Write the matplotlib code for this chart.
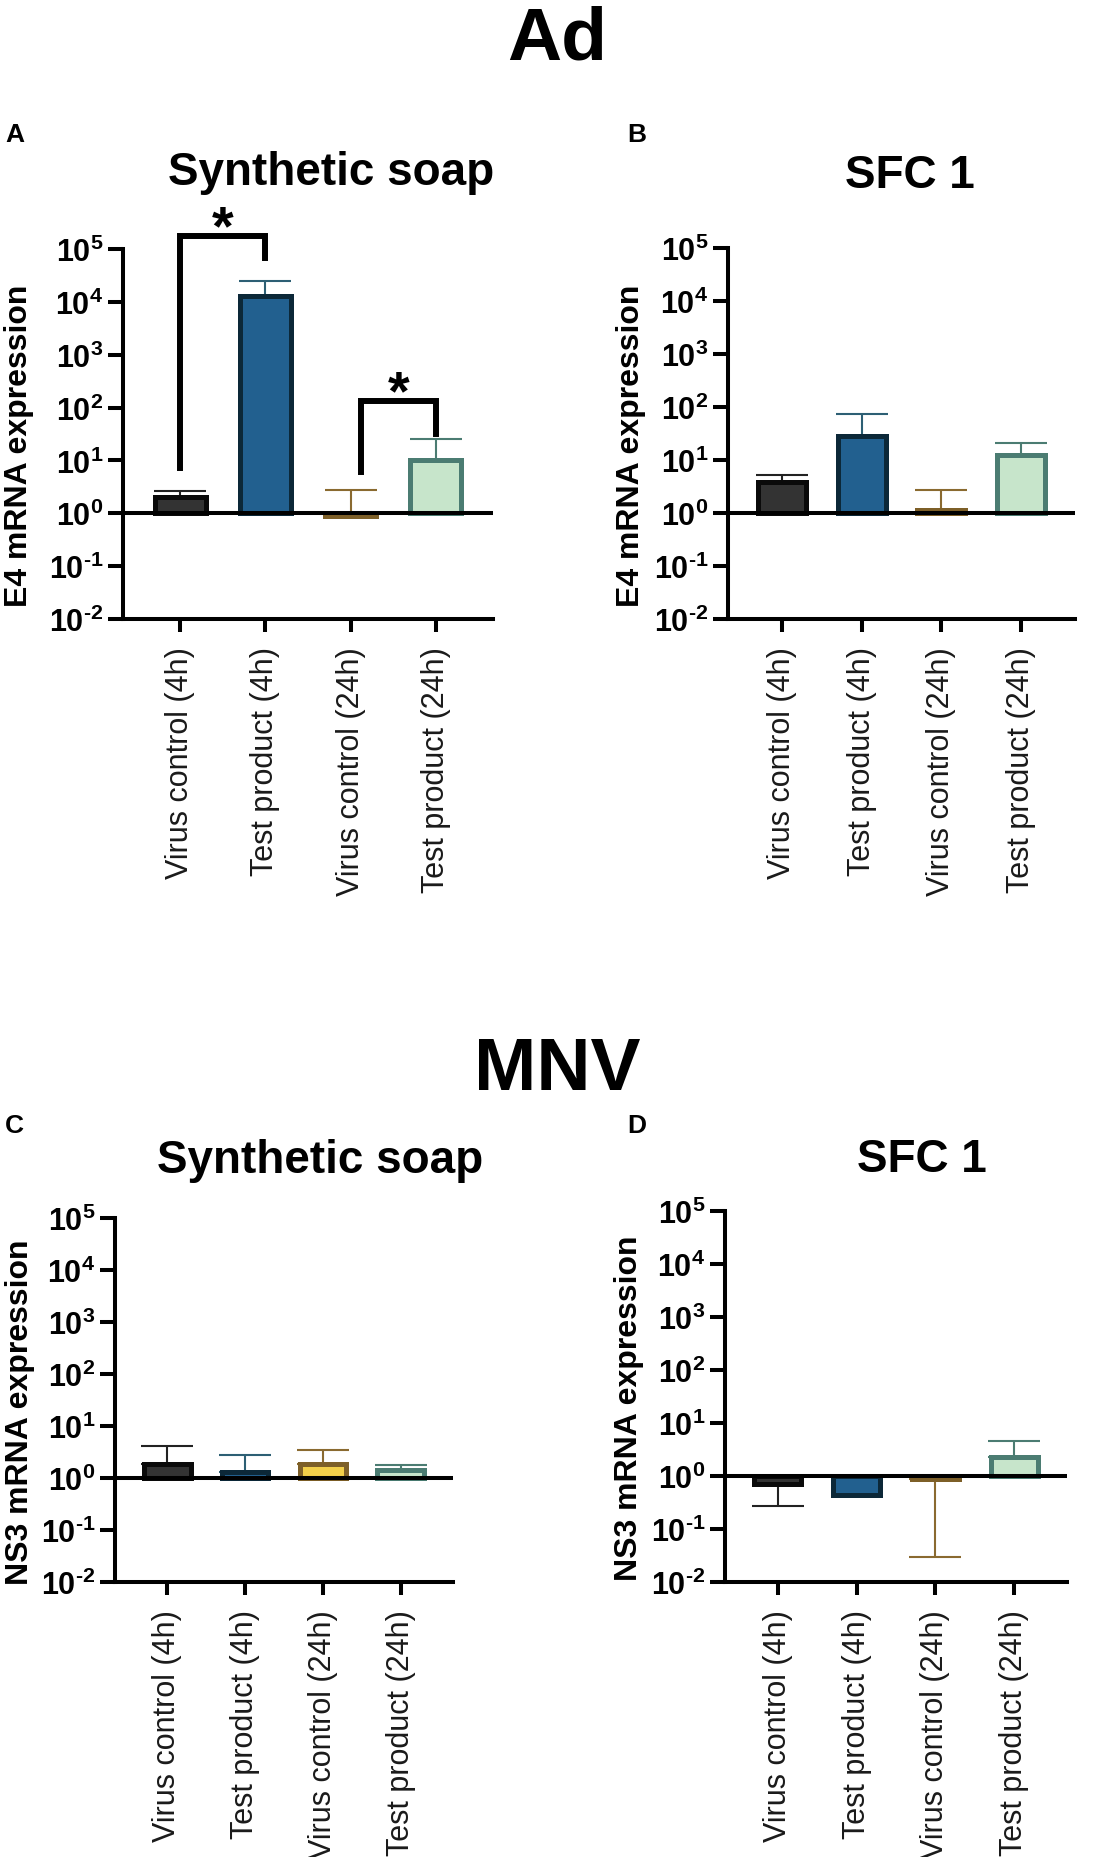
import matplotlib
matplotlib.use("Agg")
import matplotlib.pyplot as plt
from matplotlib.ticker import FixedLocator, NullLocator

plt.rcParams['font.family'] = ['Liberation Sans', 'DejaVu Sans']
plt.rcParams['mathtext.fontset'] = 'custom'
plt.rcParams['mathtext.rm'] = 'Liberation Sans'
plt.rcParams['mathtext.bf'] = 'Liberation Sans:bold'

W, H = 1116, 1858

categories = ["Virus control (4h)", "Test product (4h)",
              "Virus control (24h)", "Test product (24h)"]

# bar heights (fold expression) and the end of each one-sided error bar
ad_soap_mean = [2.0, 1.3e4, 0.87, 10.0]
ad_soap_err = [2.6, 2.5e4, 2.8, 25.0]
ad_sfc_mean = [3.85, 28.0, 1.16, 12.2]
ad_sfc_err = [5.3, 73.0, 2.7, 21.0]
mnv_soap_mean = [1.9, 1.29, 1.89, 1.45]
mnv_soap_err = [4.2, 2.77, 3.45, 1.8]
mnv_sfc_mean = [0.70, 0.44, 0.88, 2.25]
mnv_sfc_err = [0.276, 0.43, 0.030, 4.6]

# significance brackets for panel A: (x1, x2, left foot, top, right foot, star y)
sig_a = [(0, 1, 7.1, 1.78e5, 6.9e4, 4.9e5),
         (2.12, 3, 5.96, 135.0, 31.6, 372.0)]

fills = ["#333333", "#22608f", "#f2cf4a", "#c7e5cb"]
edges = ["#0a0a0a", "#0c2838", "#7d5f28", "#4b7c72"]
errcols = ["#222222", "#2d5f74", "#8a6a30", "#4b7c72"]

exps = list(range(-2, 6))

fig = plt.figure(figsize=(W / 100, H / 100), dpi=100)


def px_axes(left, right, top, bottom):
    return fig.add_axes([left / W, 1 - bottom / H, (right - left) / W, (bottom - top) / H])


def exp_label(e):
    s = str(e).replace("-", "\u2010")
    return r"$\mathbf{10^{%s}}$" % s


def panel(ax, means, errs, ylabel):
    x = list(range(len(categories)))
    ax.set_yscale("log")
    ax.set_ylim(1e-2, 1e5)
    ax.set_xlim(-0.67, 3.67)
    for i in x:
        m, e = means[i], errs[i]
        if e >= m:
            yerr = [[0], [e - m]]
        else:
            yerr = [[m - e], [0]]
        ax.errorbar(i, m, yerr=yerr, color=errcols[i], lw=1.5, capsize=19,
                    capthick=1.5, zorder=2)
    heights = [m - 1 for m in means]
    ax.bar(x, heights, bottom=1, width=0.6, color=fills, edgecolor=edges,
           linewidth=3.6, zorder=3)
    ax.axhline(1, color="k", lw=2.9, zorder=4)
    for s in ["top", "right"]:
        ax.spines[s].set_visible(False)
    for s in ["left", "bottom"]:
        ax.spines[s].set_linewidth(2.9)
    ax.yaxis.set_major_locator(FixedLocator([10.0 ** e for e in exps]))
    ax.yaxis.set_minor_locator(NullLocator())
    ax.set_yticklabels([exp_label(e) for e in exps], fontsize=22)
    ax.set_xticks(x)
    ax.set_xticklabels(categories, rotation=90, fontsize=22, color="#1a1a1a")
    ax.tick_params(axis="y", length=11, width=2.9, pad=3)
    ax.tick_params(axis="x", length=9.5, width=2.9, pad=10)
    ax.set_ylabel(ylabel, fontsize=23, fontweight="bold", va="center")
    ax.yaxis.set_label_coords(-0.28, 0.47)


axA = px_axes(123, 493, 250, 620)
panel(axA, ad_soap_mean, ad_soap_err, "E4 mRNA expression")
for x1, x2, f1, top, f2, sy in sig_a:
    axA.plot([x1, x1, x2, x2], [f1, top, top, f2], color="k", lw=4.3,
             solid_joinstyle="miter", clip_on=False, zorder=5)
    axA.annotate("*", xy=((x1 + x2) / 2, sy), xytext=(0, -22),
                 textcoords="offset points", ha="center", va="baseline",
                 fontsize=40, fontweight="bold", annotation_clip=False)

axB = px_axes(728, 1075, 249, 620)
panel(axB, ad_sfc_mean, ad_sfc_err, "E4 mRNA expression")

axC = px_axes(115, 453, 1219, 1583)
panel(axC, mnv_soap_mean, mnv_soap_err, "NS3 mRNA expression")

axD = px_axes(725, 1067, 1212, 1583)
panel(axD, mnv_sfc_mean, mnv_sfc_err, "NS3 mRNA expression")

# headings, panel titles and letters
fig.text(557 / W, 1 - 60 / H, "Ad", fontsize=54, fontweight="bold",
         ha="center", va="baseline")
fig.text(557 / W, 1 - 1090 / H, "MNV", fontsize=54, fontweight="bold",
         ha="center", va="baseline")
fig.text(331 / W, 1 - 185 / H, "Synthetic soap", fontsize=33,
         fontweight="bold", ha="center", va="baseline")
fig.text(910 / W, 1 - 188 / H, "SFC 1", fontsize=33,
         fontweight="bold", ha="center", va="baseline")
fig.text(320 / W, 1 - 1173 / H, "Synthetic soap", fontsize=33,
         fontweight="bold", ha="center", va="baseline")
fig.text(922 / W, 1 - 1172 / H, "SFC 1", fontsize=33,
         fontweight="bold", ha="center", va="baseline")
for lab, lx, ly in [("A", 5, 142), ("B", 627, 142), ("C", 5, 1133), ("D", 627, 1133)]:
    fig.text(lx / W, 1 - ly / H, lab, fontsize=19, fontweight="bold",
             ha="left", va="baseline")

fig.savefig("out.png", dpi=100)
